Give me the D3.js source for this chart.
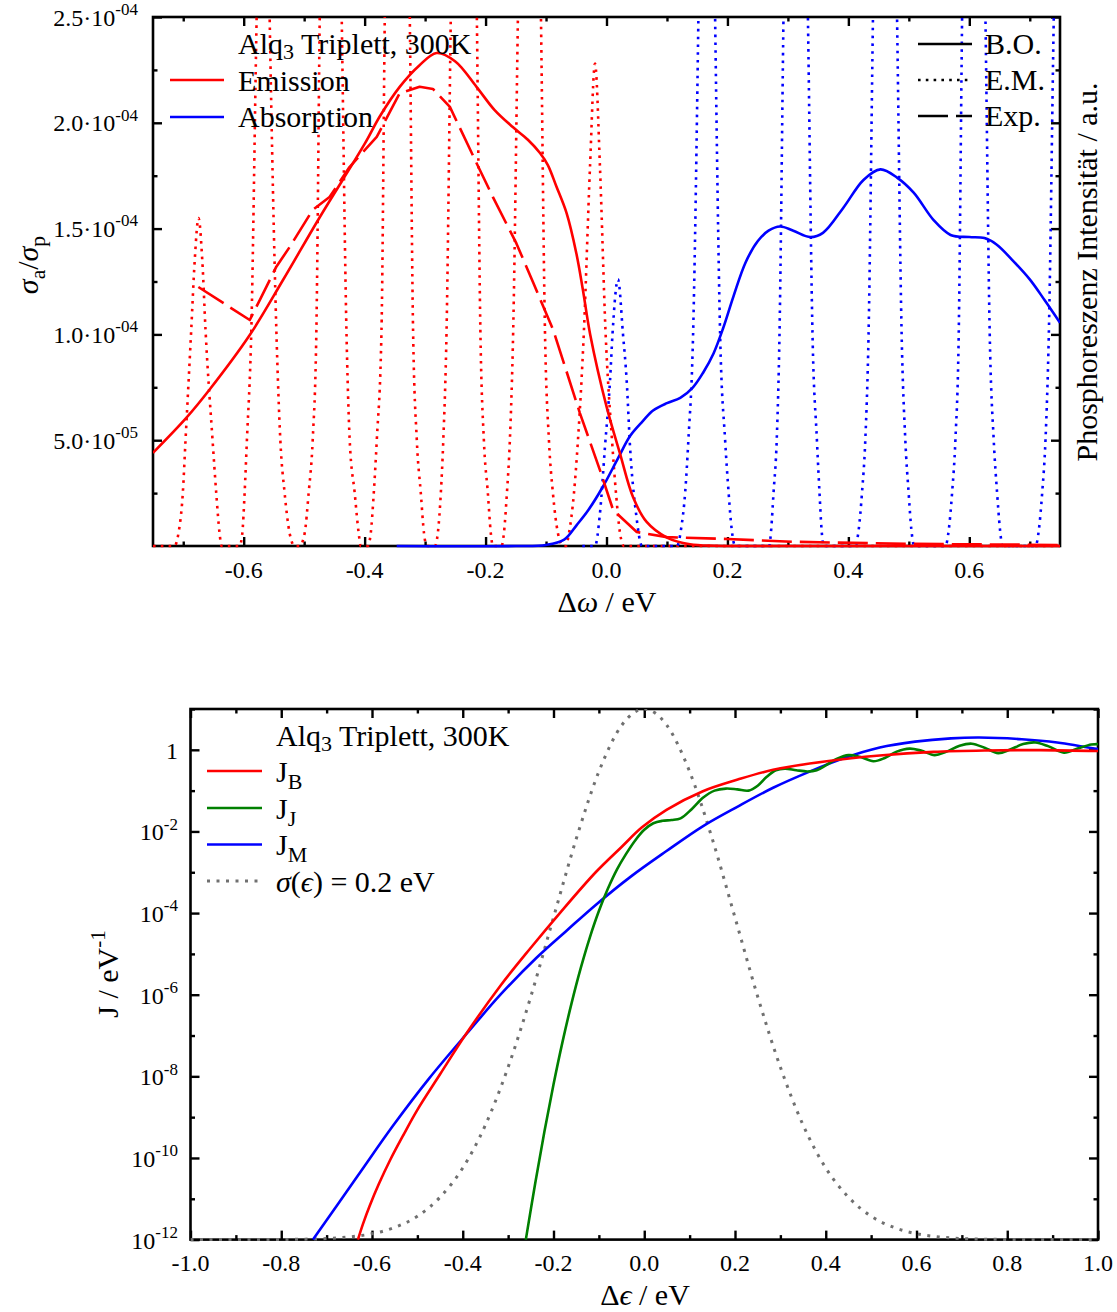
<!DOCTYPE html>
<html>
<head>
<meta charset="utf-8">
<script src="https://cdn.jsdelivr.net/npm/d3@7"></script>
<style>
  body { margin: 0; background: #fff; }
  svg text { font-family: "Liberation Serif", "DejaVu Serif", "Times New Roman", serif; fill: #000; white-space: pre; }
</style>
</head>
<body>
<svg id="chart" width="1117" height="1312"></svg>
<script>
// ---------------- Upper panel: Alq3 triplet spectra (values in units of 1e-4) ----------------
// [Δω (eV), σa/σp / 1e-4]
const emissionBO = [[-0.75,0.44],[-0.695,0.605],[-0.657,0.737],[-0.59,0.997],[-0.535,1.257],[-0.474,1.555],
  [-0.40,1.90],[-0.375,2.03],[-0.342,2.17],[-0.31,2.27],[-0.281,2.33],[-0.25,2.29],[-0.215,2.17],[-0.185,2.06],
  [-0.155,1.98],[-0.13,1.92],[-0.11,1.857],[-0.097,1.80],[-0.083,1.70],[-0.066,1.573],[-0.05,1.385],[-0.039,1.21],
  [-0.027,1.0],[0.0,0.66],[0.022,0.44],[0.044,0.23],[0.066,0.115],[0.1,0.04],[0.138,0.008],[0.18,0.001],[0.25,0],[0.75,0]];

const emissionExp = [[-0.675,1.224],[-0.59,1.068],[-0.572,1.17],[-0.546,1.32],[-0.524,1.413],[-0.486,1.588],
  [-0.458,1.649],[-0.425,1.791],[-0.380,1.933],[-0.342,2.14],[-0.309,2.17],[-0.287,2.16],[-0.259,2.075],
  [-0.215,1.81],[-0.188,1.65],[-0.149,1.43],[-0.122,1.25],[-0.088,1.02],[-0.044,0.628],[-0.011,0.36],
  [0.011,0.17],[0.05,0.066],[0.1,0.042],[0.2,0.033],[0.31,0.02],[0.5,0.01],[0.75,0.005]];

const emissionEM = [[-0.75,0],[-0.7145,0],[-0.7079,0.06],[-0.7007,0.25],[-0.6962,0.5],[-0.6868,1.02],[-0.6810,1.35],
  [-0.6747,1.55],[-0.6685,1.35],[-0.6631,1.02],[-0.6515,0.5],[-0.6454,0.25],[-0.6399,0.06],[-0.6366,0],
  [-0.6068,0],[-0.6023,0.06],[-0.5985,0.25],[-0.5947,0.5],[-0.5874,1.02],[-0.5786,2.5],[-0.5662,4.2],
  [-0.5571,2.5],[-0.5460,1.02],[-0.5394,0.5],[-0.5323,0.25],[-0.5240,0.06],[-0.5157,0],
  [-0.5075,0],[-0.4992,0.06],[-0.4926,0.25],[-0.4859,0.5],[-0.4798,1.02],[-0.4743,2.5],[-0.4561,6],
  [-0.4379,2.5],[-0.4301,1.02],[-0.4247,0.5],[-0.4164,0.25],[-0.4098,0.06],[-0.4065,0],
  [-0.3949,0],[-0.3899,0.06],[-0.3849,0.25],[-0.3799,0.5],[-0.3721,1.02],[-0.3667,2.5],[-0.3460,6],
  [-0.3253,2.5],[-0.3199,1.02],[-0.3137,0.5],[-0.3071,0.25],[-0.3018,0.06],[-0.2972,0],
  [-0.2839,0],[-0.2790,0.06],[-0.2740,0.25],[-0.2699,0.5],[-0.2645,1.02],[-0.2575,2.5],[-0.2359,6],
  [-0.2144,2.5],[-0.2086,1.02],[-0.2028,0.5],[-0.1962,0.25],[-0.1913,0.06],[-0.1879,0],
  [-0.1735,0],[-0.1697,0.06],[-0.1647,0.25],[-0.1598,0.5],[-0.1543,1.02],[-0.1465,2.5],[-0.1275,6],
  [-0.1084,2.5],[-0.1018,1.02],[-0.0952,0.5],[-0.0886,0.25],[-0.0803,0.06],[-0.0720,0],
  [-0.0671,0],[-0.0621,0.06],[-0.0538,0.25],[-0.0472,0.5],[-0.0373,1.02],[-0.0273,1.79],[-0.0190,2.28],
  [-0.0108,1.79],[-0.0017,1.02],[0.0091,0.5],[0.0157,0.25],[0.0224,0.06],[0.0290,0],[0.75,0]];

const absorptionBO = [[-0.347,0],[-0.15,0],[-0.1,0.005],[-0.07,0.03],[-0.049,0.10],[-0.03,0.17],[-0.006,0.28],
  [0.02,0.42],[0.039,0.52],[0.06,0.59],[0.077,0.64],[0.1,0.675],[0.122,0.70],[0.143,0.75],[0.16,0.82],
  [0.177,0.91],[0.193,1.03],[0.21,1.18],[0.23,1.34],[0.25,1.44],[0.268,1.49],[0.287,1.51],[0.309,1.49],[0.337,1.46],
  [0.358,1.48],[0.392,1.60],[0.425,1.73],[0.453,1.78],[0.481,1.74],[0.508,1.67],[0.541,1.54],[0.569,1.47],
  [0.6,1.46],[0.625,1.455],[0.645,1.425],[0.67,1.355],[0.70,1.26],[0.725,1.16],[0.75,1.055]];

const absorptionEM = [[-0.04,0],[-0.0190,0],[-0.0108,0.155],[-0.0025,0.47],[0.0058,0.78],[0.0099,1.0],[0.0190,1.26],
  [0.0273,1.0],[0.0334,0.78],[0.0389,0.47],[0.0488,0.155],[0.0588,0],
  [0.1167,0],[0.1233,0.08],[0.1300,0.25],[0.1354,0.5],[0.1432,1.0],[0.1520,2.5],[0.1659,6],
  [0.1796,2.5],[0.1879,1.0],[0.1962,0.5],[0.2020,0.25],[0.2070,0.08],[0.2128,0],
  [0.2690,0],[0.2724,0.08],[0.2762,0.25],[0.2815,0.5],[0.2861,1.0],[0.2927,2.5],[0.3129,6],
  [0.3331,2.5],[0.3407,1.0],[0.3480,0.5],[0.3523,0.25],[0.3556,0.08],[0.3593,0],
  [0.4114,0],[0.4172,0.08],[0.4225,0.25],[0.4280,0.5],[0.4334,1.0],[0.4407,2.5],[0.4606,6],
  [0.4805,2.5],[0.4881,1.0],[0.4942,0.5],[0.4997,0.25],[0.5041,0.08],[0.5091,0],
  [0.5604,0],[0.5662,0.08],[0.5715,0.25],[0.5770,0.5],[0.5825,1.0],[0.5881,2.5],[0.6073,6],
  [0.6267,2.5],[0.6338,1.0],[0.6404,0.5],[0.6460,0.25],[0.6507,0.08],[0.6548,0],
  [0.7094,0],[0.7152,0.08],[0.7205,0.25],[0.7260,0.5],[0.7315,1.0],[0.7397,2.5],[0.765,6]];

const topXTicks = [-0.6,-0.4,-0.2,0.0,0.2,0.4,0.6];
const topXLabels = ['-0.6','-0.4','-0.2','0.0','0.2','0.4','0.6'];
const topXMinor = [-0.7,-0.5,-0.3,-0.1,0.1,0.3,0.5,0.7];
const topYTicks = [0.5,1.0,1.5,2.0,2.5];
const topYLabels = [['5.0·10','-05'],['1.0·10','-04'],['1.5·10','-04'],['2.0·10','-04'],['2.5·10','-04']];
const topYMinor = [0.25,0.75,1.25,1.75,2.25];

// ---------------- Lower panel: transfer integrals (log10 J / eV^-1) ----------------
const jB = [[-0.631,-12],[-0.62,-11.62],[-0.605,-11.17],[-0.585,-10.64],[-0.56,-10.05],[-0.53,-9.42],[-0.5,-8.82],
  [-0.45,-7.95],[-0.395,-7.0],[-0.317,-5.78],[-0.25,-4.85],[-0.186,-4.0],[-0.107,-3.0],[-0.05,-2.38],[-0.005,-1.9],
  [0.049,-1.47],[0.128,-1.02],[0.206,-0.73],[0.284,-0.49],[0.402,-0.28],[0.519,-0.14],[0.637,-0.05],[0.754,-0.016],
  [0.872,-0.008],[1.0,-0.03]];

const jJ = [[-0.261,-12],[-0.24,-10.6],[-0.22,-9.35],[-0.2,-8.2],[-0.18,-7.15],[-0.16,-6.2],[-0.14,-5.35],
  [-0.12,-4.6],[-0.1,-3.95],[-0.08,-3.4],[-0.06,-2.93],[-0.04,-2.55],[-0.02,-2.22],[0.0,-1.96],[0.02,-1.8],
  [0.04,-1.74],[0.06,-1.72],[0.08,-1.68],[0.105,-1.45],[0.13,-1.17],[0.155,-1.0],[0.18,-0.95],[0.205,-0.97],
  [0.23,-1.0],[0.25,-0.88],[0.27,-0.66],[0.29,-0.5],[0.31,-0.46],[0.335,-0.5],[0.36,-0.53],[0.38,-0.5],
  [0.40,-0.38],[0.425,-0.22],[0.45,-0.13],[0.475,-0.17],[0.505,-0.28],[0.53,-0.2],[0.555,-0.05],[0.585,0.03],
  [0.61,-0.02],[0.64,-0.13],[0.665,-0.05],[0.695,0.1],[0.722,0.15],[0.75,0.05],[0.78,-0.08],[0.805,0.0],
  [0.835,0.14],[0.862,0.18],[0.89,0.09],[0.925,-0.07],[0.955,0.03],[0.985,0.13],[1.0,0.14]];

const jM = [[-0.730,-12],[-0.631,-10.43],[-0.553,-9.2],[-0.474,-8.05],[-0.387,-6.9],[-0.317,-6.0],[-0.238,-5.1],
  [-0.17,-4.42],[-0.107,-3.8],[-0.029,-3.1],[0.049,-2.48],[0.128,-1.88],[0.206,-1.39],[0.284,-0.93],[0.363,-0.54],
  [0.441,-0.2],[0.519,0.057],[0.597,0.2],[0.676,0.28],[0.738,0.3],[0.832,0.26],[0.91,0.18],[1.0,0.016]];

// disorder distribution σ(ϵ) = 0.2 eV, relative height, Δϵ from -1 to 1 in 0.05 steps
const sigmaX = d3.range(41).map(i => -1 + i * 0.05);
const sigmaRel = [0,0,0,0,0.0003,0.0008,0.002,0.005,0.011,0.023,0.044,0.080,0.135,0.216,0.325,0.458,0.607,0.755,0.882,0.969,
  1.0,0.969,0.882,0.755,0.607,0.458,0.325,0.216,0.135,0.080,0.044,0.023,0.011,0.005,0.002,0.0008,0.0003,0,0,0,0];

const botXTicks = [-1,-0.8,-0.6,-0.4,-0.2,0,0.2,0.4,0.6,0.8,1];
const botXLabels = ['-1.0','-0.8','-0.6','-0.4','-0.2','0.0','0.2','0.4','0.6','0.8','1.0'];
const botXMinor = [-0.9,-0.7,-0.5,-0.3,-0.1,0.1,0.3,0.5,0.7,0.9];
const botYTicks = [1e-12,1e-10,1e-8,1e-6,1e-4,1e-2,1];
const botYLabels = [['10','-12'],['10','-10'],['10','-8'],['10','-6'],['10','-4'],['10','-2'],['1','']];
const botYMinor = [1e-11,1e-9,1e-7,1e-5,1e-3,1e-1,10];

// ---------------- drawing ----------------
const RED = '#ff0000', BLUE = '#0000ff', GREEN = '#008000', GREY = '#707070';
const svg = d3.select('#chart');
svg.append('rect').attr('width', 1117).attr('height', 1312).attr('fill', '#fff');

// text with super/subscripts: parts = [[string, 'sup'|'sub'|'', italic?]]
function rich(sel, parts, fs, small, subShift) {
  let cur = 0;
  const sfs = small || fs * 0.72;
  const sub = subShift === undefined ? 0.24 * fs : subShift;
  parts.forEach(([s, mode, it]) => {
    const off = mode === 'sup' ? -0.45 * fs : mode === 'sub' ? sub : 0;
    const ts = sel.append('tspan').attr('dy', (off - cur).toFixed(2)).text(s);
    cur = off;
    if (mode) ts.attr('font-size', sfs);
    if (it) ts.attr('font-style', 'italic');
  });
  return sel;
}

function tickAxis(g, axis, size) {
  g.call(axis.tickSize(-size).tickFormat(''));
  g.select('.domain').remove();
  g.selectAll('line').attr('stroke', '#000').attr('stroke-width', 2.4);
  g.selectAll('text').remove();
}

function frameAndTicks(x, y, xMaj, xMin, yMaj, yMin) {
  const [x0, x1] = x.range(), [y0, y1] = y.range();
  const g = svg.append('g');
  g.append('g').attr('transform', `translate(0,${y0})`).call(s => tickAxis(s, d3.axisBottom(x).tickValues(xMaj), 9));
  g.append('g').attr('transform', `translate(0,${y0})`).call(s => tickAxis(s, d3.axisBottom(x).tickValues(xMin), 4.5));
  g.append('g').attr('transform', `translate(0,${y1})`).call(s => tickAxis(s, d3.axisTop(x).tickValues(xMaj), 9));
  g.append('g').attr('transform', `translate(0,${y1})`).call(s => tickAxis(s, d3.axisTop(x).tickValues(xMin), 4.5));
  g.append('g').attr('transform', `translate(${x0},0)`).call(s => tickAxis(s, d3.axisLeft(y).tickValues(yMaj), 9));
  g.append('g').attr('transform', `translate(${x0},0)`).call(s => tickAxis(s, d3.axisLeft(y).tickValues(yMin), 4.5));
  g.append('g').attr('transform', `translate(${x1},0)`).call(s => tickAxis(s, d3.axisRight(y).tickValues(yMaj), 9));
  g.append('g').attr('transform', `translate(${x1},0)`).call(s => tickAxis(s, d3.axisRight(y).tickValues(yMin), 4.5));
  g.append('rect').attr('x', x0).attr('y', y1).attr('width', x1 - x0).attr('height', y0 - y1)
    .attr('fill', 'none').attr('stroke', '#000').attr('stroke-width', 2.6);
}

function clip(id, x, y) {
  const [x0, x1] = x.range(), [y0, y1] = y.range();
  svg.append('clipPath').attr('id', id).append('rect')
    .attr('x', x0).attr('y', y1).attr('width', x1 - x0).attr('height', y0 - y1 + 3);
}

const styles = {
  solid: { w: 2.6, dash: null },
  dotted: { w: 2.6, dash: '2.6 5.2' },
  dashed: { w: 2.6, dash: '30 8' }
};

function drawLine(g, data, gen, color, style) {
  const p = g.append('path').datum(data).attr('d', gen).attr('fill', 'none')
    .attr('stroke', color).attr('stroke-width', styles[style].w).attr('stroke-linejoin', 'round');
  if (styles[style].dash) p.attr('stroke-dasharray', styles[style].dash);
  return p;
}

function legendRow(x1, x2, y, color, style) {
  const l = svg.append('line').attr('x1', x1).attr('x2', x2).attr('y1', y).attr('y2', y)
    .attr('stroke', color).attr('stroke-width', styles[style].w);
  if (styles[style].dash) l.attr('stroke-dasharray', styles[style].dash);
}

// ===== upper panel =====
const xA = d3.scaleLinear([-0.75, 0.75], [153, 1060]);
const yA = d3.scaleLinear([0, 2.5], [546, 17]);
frameAndTicks(xA, yA, topXTicks, topXMinor, topYTicks, topYMinor);
clip('clipA', xA, yA);

const gA = svg.append('g').attr('clip-path', 'url(#clipA)');
const peaksA = d3.line().x(d => xA(d[0])).y(d => yA(d[1])).curve(d3.curveMonotoneX);
const smoothA = d3.line().x(d => xA(d[0])).y(d => yA(d[1])).curve(d3.curveCatmullRom.alpha(0.5));
const linearA = d3.line().x(d => xA(d[0])).y(d => yA(d[1]));
drawLine(gA, emissionEM, peaksA, RED, 'dotted');
drawLine(gA, absorptionEM, peaksA, BLUE, 'dotted');
drawLine(gA, absorptionBO, smoothA, BLUE, 'solid');
drawLine(gA, emissionExp, linearA, RED, 'dashed');
drawLine(gA, emissionBO, smoothA, RED, 'solid');

// tick labels
topXTicks.forEach((v, i) => {
  svg.append('text').attr('x', xA(v)).attr('y', 578).attr('text-anchor', 'middle')
    .attr('font-size', 24).text(topXLabels[i]);
});
topYTicks.forEach((v, i) => {
  const t = svg.append('text').attr('x', 138).attr('y', yA(v) + 8.5).attr('text-anchor', 'end').attr('font-size', 24);
  rich(t, [[topYLabels[i][0], ''], [topYLabels[i][1], 'sup']], 24, 17);
});

// axis titles
rich(svg.append('text').attr('x', 607).attr('y', 612).attr('text-anchor', 'middle').attr('font-size', 30),
  [['Δ', ''], ['ω', '', true], [' / eV', '']], 30);
rich(svg.append('text').attr('transform', 'translate(38,265) rotate(-90)').attr('text-anchor', 'middle').attr('font-size', 30),
  [['σ', '', true], ['a', 'sub'], ['/', ''], ['σ', '', true], ['p', 'sub']], 30);
svg.append('text').attr('transform', 'translate(1097,272) rotate(-90)').attr('text-anchor', 'middle')
  .attr('font-size', 30).text('Phosphoreszenz Intensität / a.u.');

// legends
rich(svg.append('text').attr('x', 238).attr('y', 54).attr('font-size', 30),
  [['Alq', ''], ['3', 'sub'], [' Triplett, 300K', '']], 30, 22, 5);
legendRow(170, 224, 80, RED, 'solid');
svg.append('text').attr('x', 238).attr('y', 91).attr('font-size', 30).text('Emission');
legendRow(170, 224, 117, BLUE, 'solid');
svg.append('text').attr('x', 238).attr('y', 127).attr('font-size', 30).text('Absorption');

legendRow(918, 972, 44, '#000', 'solid');
svg.append('text').attr('x', 985).attr('y', 54).attr('font-size', 30).text('B.O.');
legendRow(918, 972, 80, '#000', 'dotted');
svg.append('text').attr('x', 985).attr('y', 90).attr('font-size', 30).text('E.M.');
legendRow(918, 972, 116, '#000', 'dashed');
svg.append('text').attr('x', 985).attr('y', 126).attr('font-size', 30).text('Exp.');

// ===== lower panel =====
const xB = d3.scaleLinear([-1, 1], [190.5, 1098]);
const yB = d3.scaleLog([1e-12, 10], [1239.6, 709]);
const yG = d3.scaleLinear([0, 1], [1239.6, 709]);
frameAndTicks(xB, yB, botXTicks, botXMinor, botYTicks, botYMinor);
clip('clipB', xB, yB);

const gB = svg.append('g').attr('clip-path', 'url(#clipB)');
const logLine = d3.line().x(d => xB(d[0])).y(d => yB(Math.pow(10, d[1]))).curve(d3.curveCatmullRom.alpha(0.5));
const sigmaLine = d3.line().x((d, i) => xB(sigmaX[i])).y(d => yG(d)).curve(d3.curveMonotoneX);
gB.append('path').datum(sigmaRel).attr('d', sigmaLine).attr('fill', 'none').attr('stroke', GREY)
  .attr('stroke-width', 3).attr('stroke-dasharray', '3 6.5');
drawLine(gB, jM, logLine, BLUE, 'solid');
drawLine(gB, jJ, logLine, GREEN, 'solid');
drawLine(gB, jB, logLine, RED, 'solid');

botXTicks.forEach((v, i) => {
  svg.append('text').attr('x', xB(v)).attr('y', 1271).attr('text-anchor', 'middle')
    .attr('font-size', 24).text(botXLabels[i]);
});
botYTicks.forEach((v, i) => {
  const t = svg.append('text').attr('x', 178).attr('y', yB(v) + 9).attr('text-anchor', 'end').attr('font-size', 24);
  const parts = [[botYLabels[i][0], '']];
  if (botYLabels[i][1]) parts.push([botYLabels[i][1], 'sup']);
  rich(t, parts, 24, 17);
});

rich(svg.append('text').attr('x', 645).attr('y', 1305).attr('text-anchor', 'middle').attr('font-size', 30),
  [['Δ', ''], ['ϵ', '', true], [' / eV', '']], 30);
rich(svg.append('text').attr('transform', 'translate(118,974) rotate(-90)').attr('text-anchor', 'middle').attr('font-size', 30),
  [['J / eV', ''], ['-1', 'sup']], 30, 21);

rich(svg.append('text').attr('x', 276).attr('y', 746).attr('font-size', 30),
  [['Alq', ''], ['3', 'sub'], [' Triplett, 300K', '']], 30, 22, 5);
legendRow(207, 262, 771, RED, 'solid');
rich(svg.append('text').attr('x', 276).attr('y', 782).attr('font-size', 30), [['J', ''], ['B', 'sub']], 30, 22);
legendRow(207, 262, 808, GREEN, 'solid');
rich(svg.append('text').attr('x', 276).attr('y', 819).attr('font-size', 30), [['J', ''], ['J', 'sub']], 30, 22);
legendRow(207, 262, 844.5, BLUE, 'solid');
rich(svg.append('text').attr('x', 276).attr('y', 855).attr('font-size', 30), [['J', ''], ['M', 'sub']], 30, 22);
svg.append('line').attr('x1', 207).attr('x2', 262).attr('y1', 881).attr('y2', 881)
  .attr('stroke', GREY).attr('stroke-width', 3).attr('stroke-dasharray', '3 6.5');
rich(svg.append('text').attr('x', 276).attr('y', 892).attr('font-size', 30),
  [['σ', '', true], ['(', ''], ['ϵ', '', true], [') = 0.2 eV', '']], 30);
</script>
</body>
</html>
